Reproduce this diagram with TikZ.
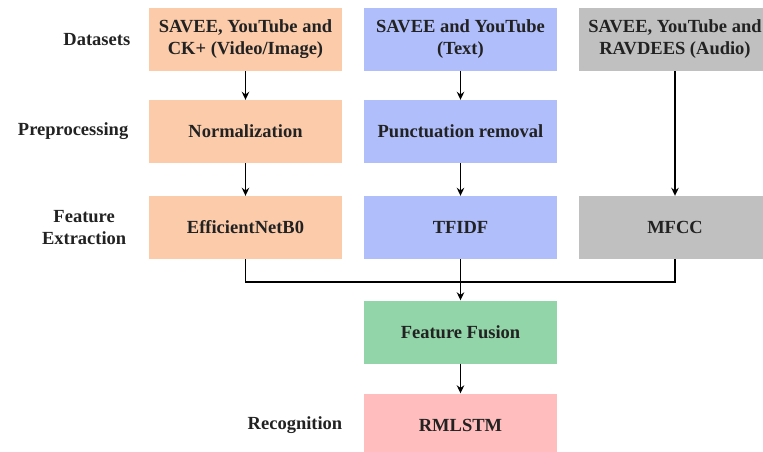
\documentclass[tikz,border=0pt]{standalone}
\usepackage{fontspec}
\setmainfont{Liberation Serif}
\usepackage{xcolor}
\usetikzlibrary{calc,arrows.meta,positioning}
\definecolor{ink}{HTML}{222222}
\definecolor{peach}{HTML}{FBCBAA}
\definecolor{lav}{HTML}{B0BFFB}
\definecolor{grey}{HTML}{C0C0C0}
\definecolor{mint}{HTML}{91D5A8}
\definecolor{rose}{HTML}{FFBDBD}
\tikzset{
  stage/.style={minimum width=193pt, minimum height=63pt, inner sep=2pt, align=center,
    text=ink, font=\bfseries\fontsize{18.5}{22}\selectfont},
  lab/.style={text=ink, align=center, font=\bfseries\fontsize{18.5}{22}\selectfont},
  flow/.style={draw=black, line width=1.5pt, -{Stealth[length=8pt,width=7.5pt]}},
  link/.style={draw=black, line width=1.5pt},
}

\begin{document}
\begin{tikzpicture}[x=1pt,y=-1pt]
  \useasboundingbox (0,0) rectangle (763,452);
  % datasets
  \node[stage, fill=peach] (vid) at (245.5,39.5) {SAVEE, YouTube and\\CK+ (Video/Image)};
  \node[stage, fill=lav] (txt) at (460.5,39.5) {SAVEE and YouTube\\(Text)};
  \node[stage, fill=grey] (aud) at (675,39.5) {SAVEE, YouTube and\\RAVDEES (Audio)};
  % preprocessing
  \node[stage, fill=peach] (norm) at (245.5,131.5) {Normalization};
  \node[stage, fill=lav] (punc) at (460.5,131.5) {Punctuation removal};
  % features
  \node[stage, fill=peach] (effnet) at (245.5,227.5) {EfficientNetB0};
  \node[stage, fill=lav] (tfidf) at (460.5,227.5) {TFIDF};
  \node[stage, fill=grey] (mfcc) at (675,227.5) {MFCC};
  % fusion and recognition
  \node[stage, fill=mint] (fuse) at (460.5,332) {Feature Fusion};
  \node[stage, fill=rose] (rmlstm) at (460.5,425) {RMLSTM};
  % row labels
  \node[lab, left=15pt of vid] (dsets) {Datasets};
  \node[lab, left=17pt of norm] (prep) {Preprocessing};
  \node[lab, left=19pt of effnet] (fext) {Feature\\Extraction};
  \node[lab, left=18pt of rmlstm] (recog) {Recognition};
  % arrows
  \draw[flow] (vid) -- (norm);
  \draw[flow] (norm) -- (effnet);
  \draw[flow] (txt) -- (punc);
  \draw[flow] (punc) -- (tfidf);
  \draw[flow] (aud) -- (mfcc);
  \coordinate (mergeL) at ($(effnet.south)+(0,23)$);
  \coordinate (mergeR) at ($(mfcc.south)+(0,23)$);
  \draw[link] (effnet.south) -- (mergeL) -- (mergeR) -- (mfcc.south);
  \draw[flow] (tfidf) -- (fuse);
  \draw[flow] (fuse) -- (rmlstm);
\end{tikzpicture}
\end{document}
